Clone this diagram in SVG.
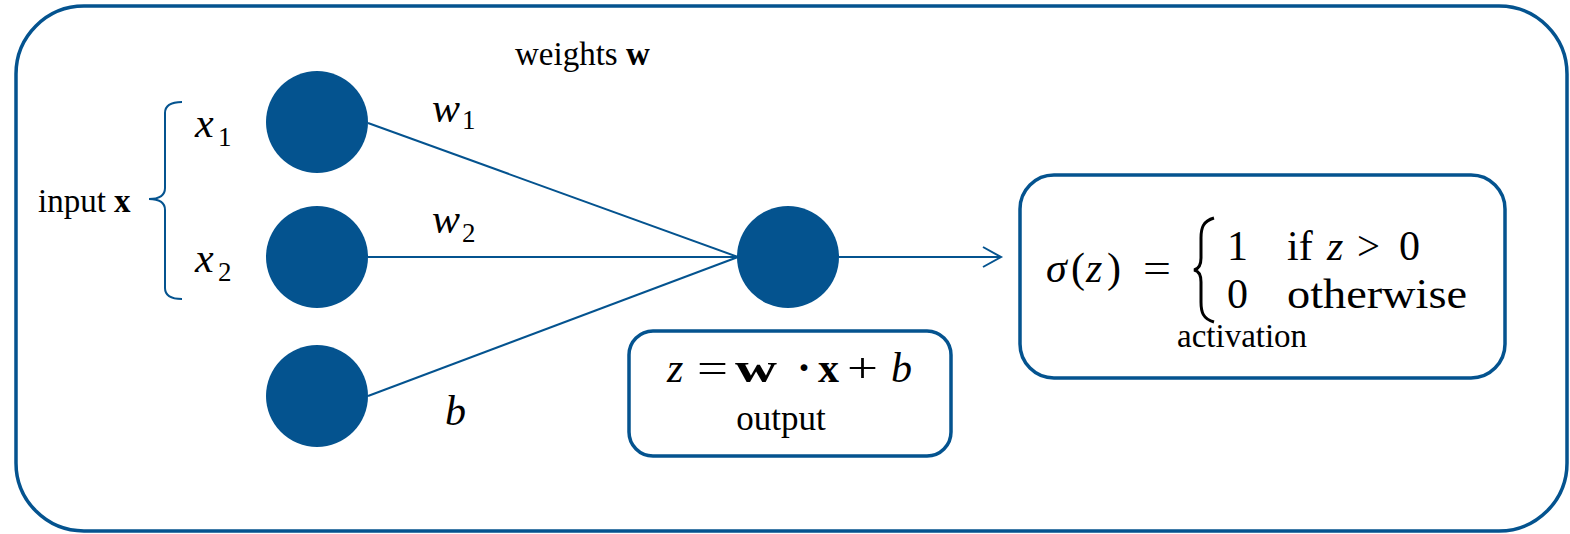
<svg xmlns="http://www.w3.org/2000/svg" width="1570" height="534" viewBox="0 0 1570 534">
<style>
.box{fill:#fff;stroke:#04538F;stroke-width:3.5}
.node{fill:#04538F}
.conn{stroke:#04538F;stroke-width:2;fill:none}
.t{font-family:"Liberation Serif",serif;fill:#000}
.mi{font-family:"Liberation Serif",serif;font-style:italic;font-size:42px;fill:#000}
.mr{font-family:"Liberation Serif",serif;font-size:42px;fill:#000}
.mb{font-family:"Liberation Serif",serif;font-weight:bold;font-size:42px;fill:#000}
.sub{font-family:"Liberation Serif",serif;font-size:27px;fill:#000}
</style>
<rect id="frame" x="16" y="6" width="1551" height="525" rx="68" ry="68" class="box"/>
<g id="connectors">
<line x1="368" y1="123" x2="738" y2="257" class="conn"/>
<line x1="368" y1="257" x2="738" y2="257" class="conn"/>
<line x1="368" y1="396" x2="738" y2="257" class="conn"/>
<line x1="839" y1="257" x2="1000" y2="257" class="conn"/>
<polyline points="983,247 1001,257 983,267" class="conn"/>
</g>
<g id="input-brace">
<path d="M182,102 C171,102 165,105 165,113 L165,188 C165,195 160,199 149,199 C160,199 165,203 165,210 L165,288 C165,296 171,299 182,299" class="conn"/>
<text class="t" x="38" y="212" font-size="33">input <tspan font-weight="bold">x</tspan></text>
</g>
<g id="weights-label"><text class="t" x="515" y="65" font-size="33">weights <tspan font-weight="bold">w</tspan></text></g>
<g id="node-x1">
<circle cx="317" cy="122" r="51" class="node"/>
<text class="mi" x="195" y="137">x</text><text class="sub" x="218" y="146">1</text>
</g>
<g id="node-x2">
<circle cx="317" cy="257" r="51" class="node"/>
<text class="mi" x="195" y="272">x</text><text class="sub" x="218" y="281">2</text>
</g>
<g id="node-b">
<circle cx="317" cy="396" r="51" class="node"/>
</g>
<g id="edge-labels">
<text class="mi" x="432" y="122">w</text><text class="sub" x="462" y="129">1</text>
<text class="mi" x="432" y="233">w</text><text class="sub" x="462" y="242">2</text>
<text class="mi" x="445" y="425">b</text>
</g>
<g id="node-sum">
<circle cx="788" cy="257" r="51" class="node"/>
</g>
<g id="output-box">
<rect x="629" y="331" width="322" height="125" rx="24" ry="24" class="box"/>
<text class="mi" x="667" y="382">z</text>
<text class="mr" x="697" y="382" textLength="31" lengthAdjust="spacingAndGlyphs">=</text>
<text class="mb" x="735" y="382" textLength="42" lengthAdjust="spacingAndGlyphs">w</text>
<text class="mb" x="797" y="382">·</text>
<text class="mb" x="818" y="382">x</text>
<text class="mr" x="847" y="382" textLength="31" lengthAdjust="spacingAndGlyphs">+</text>
<text class="mi" x="891" y="382">b</text>
<text class="t" x="781" y="430" font-size="35" text-anchor="middle">output</text>
</g>
<g id="activation-box">
<rect x="1020" y="175" width="485" height="203" rx="34" ry="34" class="box"/>
<text class="mi" x="1046" y="282">σ</text>
<text class="mr" x="1071" y="282">(</text>
<text class="mi" x="1086" y="282">z</text>
<text class="mr" x="1107" y="282">)</text>
<text class="mr" x="1143" y="282" textLength="28" lengthAdjust="spacingAndGlyphs">=</text>
<path d="M1214,218 C1203,221 1201,228 1201,238 L1201,258 C1201,265 1199,269 1194,270 C1199,271 1201,275 1201,282 L1201,302 C1201,312 1203,319 1214,322" fill="none" stroke="#000" stroke-width="3"/>
<text class="mr" x="1227" y="260" font-size="41">1</text>
<text class="mr" x="1287" y="260" font-size="41">if</text>
<text class="mi" x="1327" y="260" font-size="41">z</text>
<text class="mr" x="1357" y="260" font-size="41" textLength="23" lengthAdjust="spacingAndGlyphs">&gt;</text>
<text class="mr" x="1399" y="260" font-size="41">0</text>
<text class="mr" x="1227" y="308" font-size="41">0</text>
<text class="mr" x="1287" y="308" font-size="41" textLength="180" lengthAdjust="spacingAndGlyphs">otherwise</text>
<text class="t" x="1177" y="347" font-size="33">activation</text>
</g>
</svg>
